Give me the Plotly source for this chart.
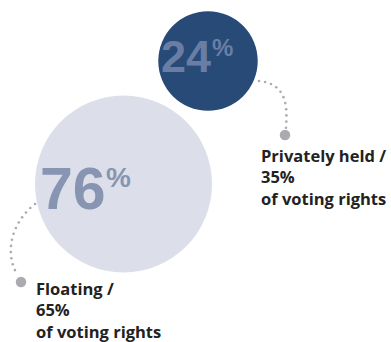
import numpy as np
from math import comb
import plotly.graph_objects as go

# Shareholder structure: share of capital and of voting rights
groups = ["Floating", "Privately held"]
capital_share = [76, 24]          # % of share capital (bubble labels)
voting_share = [65, 35]           # % of voting rights (captions)

W, H = 391, 342
centers = [(123.5, 184.0), (208.0, 61.0)]
fills = ["#dcdfe9", "#274a77"]
num_colors = ["#8795b3", "#6a7ea5"]
K = 10.15  # radius per sqrt(percent), so bubble area follows the share

fig = go.Figure()

# bubbles (area proportional to capital share)
for (cx, cy), v, col in zip(centers, capital_share, fills):
    r = K * np.sqrt(v)
    fig.add_shape(type="circle", xref="x", yref="y",
                  x0=cx - r, x1=cx + r, y0=cy - r, y1=cy + r,
                  fillcolor=col, line_width=0, layer="below")


def bezier(pts, n=400):
    pts = np.asarray(pts, float)
    t = np.linspace(0, 1, n)[:, None]
    k = len(pts) - 1
    return sum(comb(k, i) * (1 - t) ** (k - i) * t ** i * pts[i] for i in range(k + 1))


def dotted(pts, step):
    c = bezier(pts)
    seg = np.hypot(*np.diff(c, axis=0).T)
    s = np.concatenate([[0], np.cumsum(seg)])
    targets = np.arange(0, s[-1], step)
    return np.interp(targets, s, c[:, 0]), np.interp(targets, s, c[:, 1])


connectors = [
    ([(35, 204), (12, 222), (4, 252), (17, 274)], (21, 282)),
    ([(259, 81), (289, 84), (287, 110), (286, 128)], (285, 135)),
]
for ctrl, end in connectors:
    xs, ys = dotted(ctrl, 6.2)
    fig.add_trace(go.Scatter(x=xs, y=ys, mode="markers",
                             marker=dict(size=2.6, color="#a9abb0"),
                             hoverinfo="skip", showlegend=False))
    fig.add_trace(go.Scatter(x=[end[0]], y=[end[1]], mode="markers",
                             marker=dict(size=10.5, color="#a9abb0"),
                             hoverinfo="skip", showlegend=False))

# big percentage figures inside the bubbles: (x, y, size) for number and for "%"
num_font = "Liberation Sans"
num_pos = [(39, 189, 59, 105, 177, 28), (160, 56, 45, 211, 47, 24)]
for v, col, (x, y, fs, px, py, pfs) in zip(capital_share, num_colors, num_pos):
    fig.add_annotation(x=x, y=y, text=f"<b>{v}</b>", showarrow=False,
                       xanchor="left", yanchor="middle", borderpad=0,
                       font=dict(family=num_font, size=fs, color=col))
    fig.add_annotation(x=px, y=py, text="<b>%</b>", showarrow=False,
                       xanchor="left", yanchor="middle", borderpad=0,
                       font=dict(family=num_font, size=pfs, color=col))

# captions
cap_pos = [(34, 310), (259, 177)]
for g, v, (x, y) in zip(groups, voting_share, cap_pos):
    fig.add_annotation(x=x, y=y, text=f"<b>{g} /<br>{v}%<br>of voting rights</b>",
                       showarrow=False, xanchor="left", yanchor="middle", align="left",
                       font=dict(family="Open Sans", size=16.5, color="#222222"))

fig.update_layout(
    width=W, height=H, margin=dict(l=0, r=0, t=0, b=0),
    paper_bgcolor="white", plot_bgcolor="white", showlegend=False,
    xaxis=dict(range=[0, W], visible=False, fixedrange=True),
    yaxis=dict(range=[H, 0], visible=False, fixedrange=True),
)
fig.write_html("out.html", config={"displayModeBar": False})
